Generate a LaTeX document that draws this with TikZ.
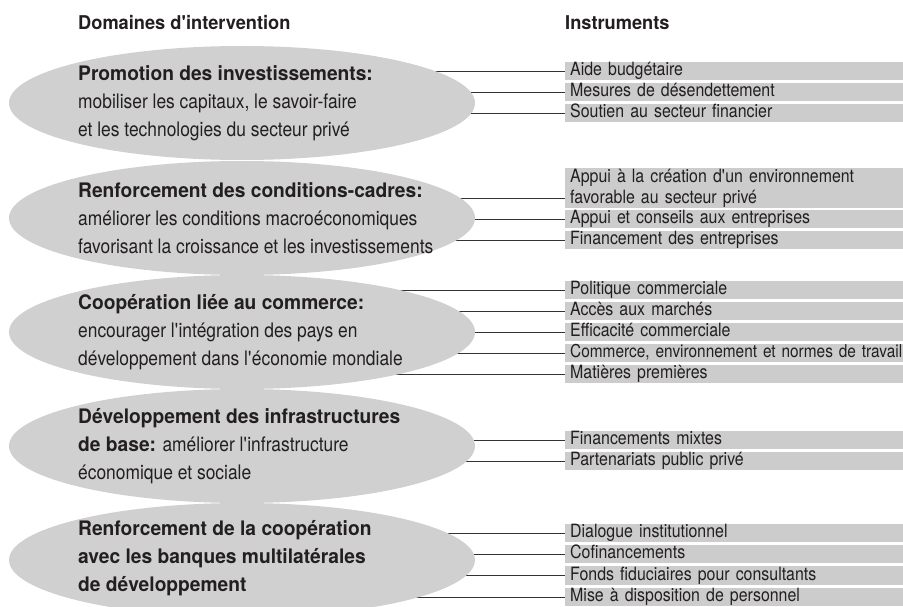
\documentclass[tikz,border=0pt]{standalone}
\usepackage{fontspec}
\setmainfont{TeX Gyre Heros}[FakeStretch=0.87]
\newfontfamily\hb{TeX Gyre Heros}[FakeStretch=0.96]
\usetikzlibrary{shapes.geometric,backgrounds}
\definecolor{ellgray}{HTML}{D0D0D0}
\definecolor{boxgray}{HTML}{CCCCCC}
\definecolor{ink}{HTML}{231F20}
\newcommand{\hbf}[1]{{\hb\bfseries #1}}
\newcommand{\ap}{\textquotesingle}
\begin{document}
\begin{tikzpicture}[x=1pt,y=-1pt,
  domainell/.style={ellipse, fill=ellgray, minimum width=466pt, minimum height=114pt, inner sep=0pt},
  dtext/.style={anchor=west, align=left, font=\fontsize{20}{28}\selectfont, text=ink, inner sep=0pt},
  headtxt/.style={anchor=west, font=\fontsize{19}{22}\selectfont\hb\bfseries, text=ink, inner sep=0pt},
  instr/.style={anchor=west, fill=boxgray, minimum width=420pt, text width=410pt, align=left,
     font=\fontsize{18.3}{21}\selectfont, text=ink, inner xsep=5pt, inner ysep=0.75pt,
     text height=13pt, text depth=4pt},
  instrtwo/.style={anchor=west, fill=boxgray, minimum width=420pt, text width=410pt, align=left,
     font=\fontsize{18.3}{21}\selectfont, text=ink, inner xsep=5pt, inner ysep=0pt, minimum height=40pt},
  link/.style={draw=black!80, line width=0.8pt}]
\useasboundingbox (0,0) rectangle (903,607);
\clip (0,0) rectangle (903,607);

% headers
\node[headtxt] (h1) at (78,23) {Domaines d\ap intervention};
\node[headtxt] (h2) at (565,23) {Instruments};

% domains
\node[domainell] (e1) at (242,103) {};
\node[domainell] (e2) at (242,218) {};
\node[domainell] (e3) at (242,332) {};
\node[domainell] (e4) at (242,446) {};
\node[domainell] (e5) at (242,560) {};

\node[dtext] (t1) at (78,103) {\hbf{Promotion des investissements:}\\mobiliser les capitaux, le savoir-faire\\et les technologies du secteur privé};
\node[dtext] (t2) at (78,218) {\hbf{Renforcement des conditions-cadres:}\\améliorer les conditions macroéconomiques\\favorisant la croissance et les investissements};
\node[dtext] (t3) at (78,332) {\hbf{Coopération liée au commerce:}\\encourager l\ap intégration des pays en\\développement dans l\ap économie mondiale};
\node[dtext] (t4) at (78,446) {\hbf{Développement des infrastructures}\\\hbf{de base:} améliorer l\ap infrastructure\\économique et sociale};
\node[dtext] (t5) at (78,558) {\hbf{Renforcement de la coopération}\\\hbf{avec les banques multilatérales}\\\hbf{de développement}};

% instruments
\node[instr] (b11) at (565,71) {Aide budgétaire};
\node[instr] (b12) at (565,92) {Mesures de désendettement};
\node[instr] (b13) at (565,113) {Soutien au secteur financier};

\node[instrtwo] (b21) at (565,188) {Appui à la création d\ap un environnement\\favorable au secteur privé};
\coordinate (c21) at (565,198.5);
\node[instr] (b22) at (565,219) {Appui et conseils aux entreprises};
\node[instr] (b23) at (565,240) {Financement des entreprises};

\node[instr] (b31) at (565,290) {Politique commerciale};
\node[instr] (b32) at (565,311) {Accès aux marchés};
\node[instr] (b33) at (565,332) {Efficacité commerciale};
\node[instr, font=\fontsize{17.7}{21}\selectfont] (b34) at (565,353) {Commerce, environnement et normes de travail};
\node[instr] (b35) at (565,374) {Matières premières};

\node[instr] (b41) at (565,440) {Financements mixtes};
\node[instr] (b42) at (565,461) {Partenariats public privé};

\node[instr] (b51) at (565,533) {Dialogue institutionnel};
\node[instr] (b52) at (565,554) {Cofinancements};
\node[instr] (b53) at (565,575.5) {Fonds fiduciaires pour consultants};
\node[instr] (b54) at (565,597) {Mise à disposition de personnel};

% connectors behind the ellipses
\begin{scope}[on background layer]
\foreach \e/\b in {e1/b11,e1/b12,e1/b13,e2/b22,e2/b23,e3/b31,e3/b32,e3/b33,e3/b34,e3/b35,e4/b41,e4/b42,e5/b51,e5/b52,e5/b53,e5/b54}
  \draw[link] (\e.center |- \b.west) -- (\b.west);
\draw[link] (e2.center |- c21) -- (c21);
\end{scope}
\end{tikzpicture}
\end{document}
